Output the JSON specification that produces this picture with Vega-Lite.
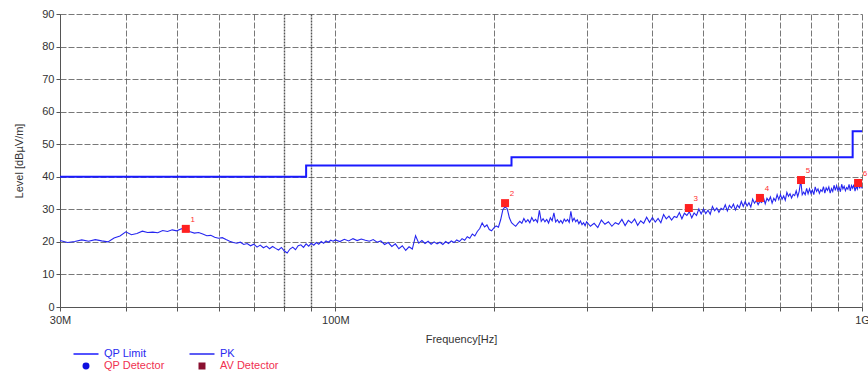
{
  "$schema": "https://vega.github.io/schema/vega-lite/v6.json",
  "width": 802,
  "height": 293,
  "autosize": "none",
  "padding": {"left": 60, "top": 14, "right": 6, "bottom": 72},
  "background": "white",
  "config": {
    "view": {"stroke": null},
    "font": "Liberation Sans",
    "axis": {
      "labelFont": "Liberation Sans",
      "labelFontSize": 11,
      "labelColor": "#333333",
      "titleFont": "Liberation Sans",
      "titleFontSize": 11,
      "titleFontWeight": "normal",
      "titleColor": "#333333",
      "domainColor": "#555555",
      "tickColor": "#555555",
      "tickSize": 4,
      "gridColor": "#555555",
      "gridDash": [6, 2],
      "gridWidth": 0.8,
      "gridOpacity": 1
    }
  },
  "datasets": {
    "limit": [
      {"f": 30, "v": 40}, {"f": 88, "v": 43.5}, {"f": 216, "v": 46}, {"f": 960, "v": 54}, {"f": 1000, "v": 54}
    ],
    "markers": [
      {"f": 52, "v": 24.0, "n": "1"}, {"f": 210, "v": 31.9, "n": "2"}, {"f": 469, "v": 30.4, "n": "3"},
      {"f": 640, "v": 33.5, "n": "4"}, {"f": 766, "v": 39.0, "n": "5"}, {"f": 983, "v": 38.1, "n": "6"}
    ],
    "pk": [
      {"f":30,"v":20.4},{"f":31,"v":19.8},{"f":32,"v":20.1},{"f":33,"v":20.6},{"f":34,"v":20.2},{"f":35,"v":20.7},{"f":36,"v":20.3},{"f":37,"v":20.0},{"f":38,"v":21.2},{"f":39,"v":21.8},
      {"f":40,"v":23.1},{"f":41,"v":22.2},{"f":42,"v":22.6},{"f":43,"v":23.3},{"f":44,"v":22.9},{"f":45,"v":23.0},{"f":46,"v":22.8},{"f":47,"v":23.5},{"f":48,"v":23.2},{"f":49,"v":23.7},
      {"f":50,"v":23.4},{"f":51,"v":24.0},{"f":52,"v":24.2},{"f":53,"v":23.1},{"f":54,"v":22.7},{"f":55,"v":22.9},{"f":56,"v":22.4},{"f":57,"v":21.9},{"f":58,"v":22.0},{"f":59,"v":21.4},
      {"f":60,"v":21.1},{"f":61,"v":21.3},{"f":62,"v":20.7},{"f":63,"v":20.2},{"f":64,"v":19.8},{"f":65,"v":19.6},{"f":66,"v":19.9},{"f":67,"v":19.2},{"f":68,"v":19.5},{"f":69,"v":18.8},
      {"f":70,"v":19.3},{"f":71,"v":18.4},{"f":72,"v":19.0},{"f":73,"v":18.2},{"f":74,"v":18.7},{"f":75,"v":17.9},{"f":76,"v":18.6},{"f":77,"v":18.0},{"f":78,"v":17.5},{"f":79,"v":18.3},
      {"f":80,"v":17.2},{"f":81,"v":16.6},{"f":82,"v":17.8},{"f":83,"v":18.4},{"f":84,"v":17.6},{"f":85,"v":18.8},{"f":86,"v":19.1},{"f":87,"v":18.3},{"f":88,"v":19.4},{"f":89,"v":18.7},
      {"f":90,"v":19.6},{"f":91,"v":19.0},{"f":92,"v":19.8},{"f":93,"v":19.3},{"f":94,"v":20.1},{"f":95,"v":19.6},{"f":96,"v":20.3},{"f":97,"v":19.9},{"f":98,"v":20.5},{"f":99,"v":20.2},
      {"f":100,"v":20.6},{"f":102,"v":20.1},{"f":104,"v":20.8},{"f":106,"v":20.3},{"f":108,"v":21.0},{"f":110,"v":20.4},{"f":112,"v":20.9},{"f":114,"v":20.5},{"f":116,"v":20.2},{"f":118,"v":20.7},
      {"f":120,"v":19.9},{"f":122,"v":20.3},{"f":124,"v":19.2},{"f":126,"v":19.8},{"f":128,"v":18.6},{"f":130,"v":19.4},{"f":132,"v":17.9},{"f":134,"v":18.8},{"f":136,"v":17.4},{"f":138,"v":18.5},
      {"f":140,"v":17.8},{"f":142,"v":21.9},{"f":144,"v":19.6},{"f":146,"v":20.4},{"f":148,"v":19.5},{"f":150,"v":20.2},{"f":152,"v":19.3},{"f":154,"v":20.0},{"f":156,"v":19.4},{"f":158,"v":19.9},
      {"f":160,"v":19.2},{"f":162,"v":20.1},{"f":164,"v":19.5},{"f":166,"v":20.3},{"f":168,"v":19.8},{"f":170,"v":20.6},{"f":172,"v":20.1},{"f":174,"v":21.0},{"f":176,"v":20.5},{"f":178,"v":21.6},
      {"f":180,"v":21.1},{"f":182,"v":22.4},{"f":184,"v":21.8},{"f":186,"v":23.2},{"f":188,"v":24.1},{"f":190,"v":25.8},{"f":192,"v":24.6},{"f":194,"v":25.2},{"f":196,"v":23.8},{"f":198,"v":23.4},
      {"f":200,"v":24.3},{"f":202,"v":24.9},{"f":204,"v":24.5},{"f":206,"v":26.8},{"f":208,"v":29.9},{"f":210,"v":30.8},{"f":212,"v":30.2},{"f":214,"v":27.4},{"f":216,"v":25.9},{"f":218,"v":25.3},
      {"f":220,"v":24.8},{"f":222,"v":25.6},{"f":224,"v":26.3},{"f":226,"v":25.7},{"f":228,"v":27.2},{"f":230,"v":26.1},{"f":232,"v":26.8},{"f":234,"v":25.9},{"f":236,"v":27.5},{"f":238,"v":26.4},
      {"f":240,"v":26.9},{"f":242,"v":26.0},{"f":244,"v":29.7},{"f":246,"v":26.3},{"f":248,"v":27.1},{"f":250,"v":26.2},{"f":252,"v":26.9},{"f":254,"v":25.8},{"f":256,"v":27.4},{"f":258,"v":26.5},
      {"f":260,"v":28.9},{"f":262,"v":26.1},{"f":264,"v":26.8},{"f":266,"v":25.9},{"f":268,"v":26.6},{"f":270,"v":25.7},{"f":272,"v":27.0},{"f":274,"v":26.3},{"f":276,"v":26.9},{"f":278,"v":26.0},
      {"f":280,"v":29.4},{"f":282,"v":26.4},{"f":284,"v":27.3},{"f":286,"v":26.2},{"f":288,"v":26.8},{"f":290,"v":25.6},{"f":292,"v":26.4},{"f":294,"v":25.3},{"f":296,"v":25.9},{"f":298,"v":25.0},
      {"f":300,"v":26.2},{"f":305,"v":24.8},{"f":310,"v":25.7},{"f":315,"v":24.4},{"f":320,"v":26.7},{"f":325,"v":25.4},{"f":330,"v":26.2},{"f":335,"v":24.8},{"f":340,"v":25.9},{"f":345,"v":25.4},
      {"f":350,"v":26.9},{"f":355,"v":25.0},{"f":360,"v":26.6},{"f":365,"v":25.8},{"f":370,"v":27.0},{"f":375,"v":25.1},{"f":380,"v":26.5},{"f":385,"v":25.7},{"f":390,"v":27.6},{"f":395,"v":26.0},
      {"f":400,"v":27.5},{"f":405,"v":26.1},{"f":410,"v":27.2},{"f":415,"v":25.9},{"f":420,"v":28.4},{"f":425,"v":27.1},{"f":430,"v":27.9},{"f":435,"v":26.7},{"f":440,"v":27.8},{"f":445,"v":27.5},
      {"f":450,"v":29.0},{"f":455,"v":27.1},{"f":460,"v":28.8},{"f":465,"v":28.1},{"f":470,"v":29.3},{"f":475,"v":27.4},{"f":480,"v":28.9},{"f":485,"v":28.1},{"f":490,"v":30.1},{"f":495,"v":28.6},
      {"f":500,"v":30.1},{"f":505,"v":28.7},{"f":510,"v":29.7},{"f":515,"v":28.5},{"f":520,"v":30.9},{"f":525,"v":29.6},{"f":530,"v":30.4},{"f":535,"v":29.1},{"f":540,"v":30.3},{"f":545,"v":29.9},
      {"f":550,"v":31.4},{"f":555,"v":29.5},{"f":560,"v":31.2},{"f":565,"v":30.4},{"f":570,"v":31.6},{"f":575,"v":29.8},{"f":580,"v":31.3},{"f":585,"v":30.5},{"f":590,"v":32.4},{"f":595,"v":30.9},
      {"f":600,"v":32.4},{"f":605,"v":31.0},{"f":610,"v":32.0},{"f":615,"v":30.7},{"f":620,"v":33.1},{"f":625,"v":31.9},{"f":630,"v":32.7},{"f":635,"v":31.4},{"f":640,"v":32.5},{"f":645,"v":32.1},
      {"f":650,"v":33.6},{"f":655,"v":31.7},{"f":660,"v":33.4},{"f":665,"v":32.6},{"f":670,"v":33.8},{"f":675,"v":31.9},{"f":680,"v":33.4},{"f":685,"v":32.6},{"f":690,"v":34.5},{"f":695,"v":33.0},
      {"f":700,"v":34.5},{"f":705,"v":33.1},{"f":710,"v":34.1},{"f":715,"v":32.8},{"f":720,"v":35.2},{"f":725,"v":34.0},{"f":730,"v":34.8},{"f":735,"v":33.5},{"f":740,"v":34.6},{"f":745,"v":34.2},
      {"f":750,"v":35.7},{"f":755,"v":33.9},{"f":760,"v":35.6},{"f":765,"v":39.0},{"f":770,"v":34.5},{"f":775,"v":35.3},{"f":780,"v":34.5},{"f":785,"v":36.4},{"f":790,"v":34.8},{"f":795,"v":36.3},
      {"f":800,"v":34.9},{"f":805,"v":35.9},{"f":810,"v":34.5},{"f":815,"v":36.9},{"f":820,"v":35.5},{"f":825,"v":36.3},{"f":830,"v":34.9},{"f":835,"v":36.0},{"f":840,"v":35.5},{"f":845,"v":37.0},
      {"f":850,"v":35.0},{"f":855,"v":36.6},{"f":860,"v":35.8},{"f":865,"v":36.9},{"f":870,"v":35.0},{"f":875,"v":36.4},{"f":880,"v":35.5},{"f":885,"v":37.4},{"f":890,"v":35.8},{"f":895,"v":37.3},
      {"f":900,"v":35.8},{"f":905,"v":36.7},{"f":910,"v":35.4},{"f":915,"v":37.7},{"f":920,"v":36.3},{"f":925,"v":37.1},{"f":930,"v":35.7},{"f":935,"v":36.7},{"f":940,"v":36.2},{"f":945,"v":37.7},
      {"f":950,"v":35.7},{"f":955,"v":37.3},{"f":960,"v":36.5},{"f":965,"v":37.6},{"f":970,"v":35.6},{"f":975,"v":37.1},{"f":980,"v":36.2},{"f":985,"v":38.0},{"f":990,"v":36.4},{"f":995,"v":37.9},
      {"f":1000,"v":36.4}
    ]
  },
  "layer": [
    {
      "data": {"name": "limit"},
      "mark": {"type": "line", "interpolate": "step-after", "strokeWidth": 2},
      "encoding": {
        "x": {
          "field": "f", "type": "quantitative",
          "scale": {"type": "log", "domain": [30, 1000], "nice": false},
          "axis": {
            "title": "Frequency[Hz]",
            "values": [30, 40, 50, 60, 70, 80, 90, 100, 200, 300, 400, 500, 600, 700, 800, 900, 1000],
            "labelExpr": "datum.value == 30 ? '30M' : datum.value == 100 ? '100M' : datum.value == 1000 ? '1G' : ''",
            "labelOverlap": false,
            "labelFlush": false,
            "labelBound": false,
            "labelPadding": 3,
            "titlePadding": 8,
            "gridDash": {"condition": {"test": "datum.value == 80 || datum.value == 90", "value": [2, 1]}, "value": [6, 2]},
            "gridWidth": {"condition": {"test": "datum.value == 80 || datum.value == 90", "value": 1.4}, "value": 0.8}
          }
        },
        "y": {
          "field": "v", "type": "quantitative",
          "scale": {"domain": [0, 90], "nice": false, "zero": false},
          "axis": {
            "title": "Level [dBµV/m]",
            "values": [0, 10, 20, 30, 40, 50, 60, 70, 80, 90],
            "tickCount": 10,
            "labelOverlap": false,
            "labelPadding": 2,
            "titlePadding": 17
          }
        },
        "color": {
          "datum": "QP Limit", "type": "nominal",
          "scale": {
            "domain": ["QP Limit", "QP Detector", "PK", "AV Detector"],
            "range": ["#1a1aff", "#1010e0", "#2626f0", "#8a1030"]
          },
          "legend": {
            "orient": "none",
            "legendX": 20,
            "legendY": 334,
            "columns": 2,
            "columnPadding": 21,
            "rowPadding": 1,
            "title": null,
            "symbolSize": 100,
            "labelOffset": 12,
            "labelFont": "Liberation Sans",
            "labelFontSize": 11,
            "encode": {
              "symbols": {
                "update": {
                  "shape": {"signal": "datum.value == 'QP Detector' ? 'circle' : datum.value == 'AV Detector' ? 'square' : 'M-2.5,0L2.5,0'"},
                  "size": {"signal": "datum.value == 'QP Detector' || datum.value == 'AV Detector' ? 30 : 100"},
                  "fill": {"signal": "datum.value == 'QP Detector' ? '#1010e0' : datum.value == 'AV Detector' ? '#8a1030' : 'transparent'"},
                  "stroke": {"signal": "datum.value == 'AV Detector' ? '#8a1030' : '#2020f0'"},
                  "strokeWidth": {"value": 1.5}
                }
              },
              "labels": {
                "update": {
                  "fill": {"signal": "datum.value == 'QP Detector' || datum.value == 'AV Detector' ? '#f03050' : '#2a2af0'"}
                }
              }
            }
          }
        }
      }
    },
    {
      "data": {"name": "pk"},
      "mark": {"type": "line", "strokeWidth": 1.1},
      "encoding": {
        "x": {"field": "f", "type": "quantitative"},
        "y": {"field": "v", "type": "quantitative"},
        "color": {"datum": "PK", "type": "nominal"}
      }
    },
    {
      "data": {"name": "markers"},
      "mark": {"type": "square", "size": 64, "color": "#ff2020", "opacity": 1},
      "encoding": {
        "x": {"field": "f", "type": "quantitative"},
        "y": {"field": "v", "type": "quantitative"}
      }
    },
    {
      "data": {"name": "markers"},
      "mark": {"type": "text", "dx": 7, "dy": -9, "fontSize": 8, "color": "#ff3030"},
      "encoding": {
        "x": {"field": "f", "type": "quantitative"},
        "y": {"field": "v", "type": "quantitative"},
        "text": {"field": "n"}
      }
    }
  ]
}
